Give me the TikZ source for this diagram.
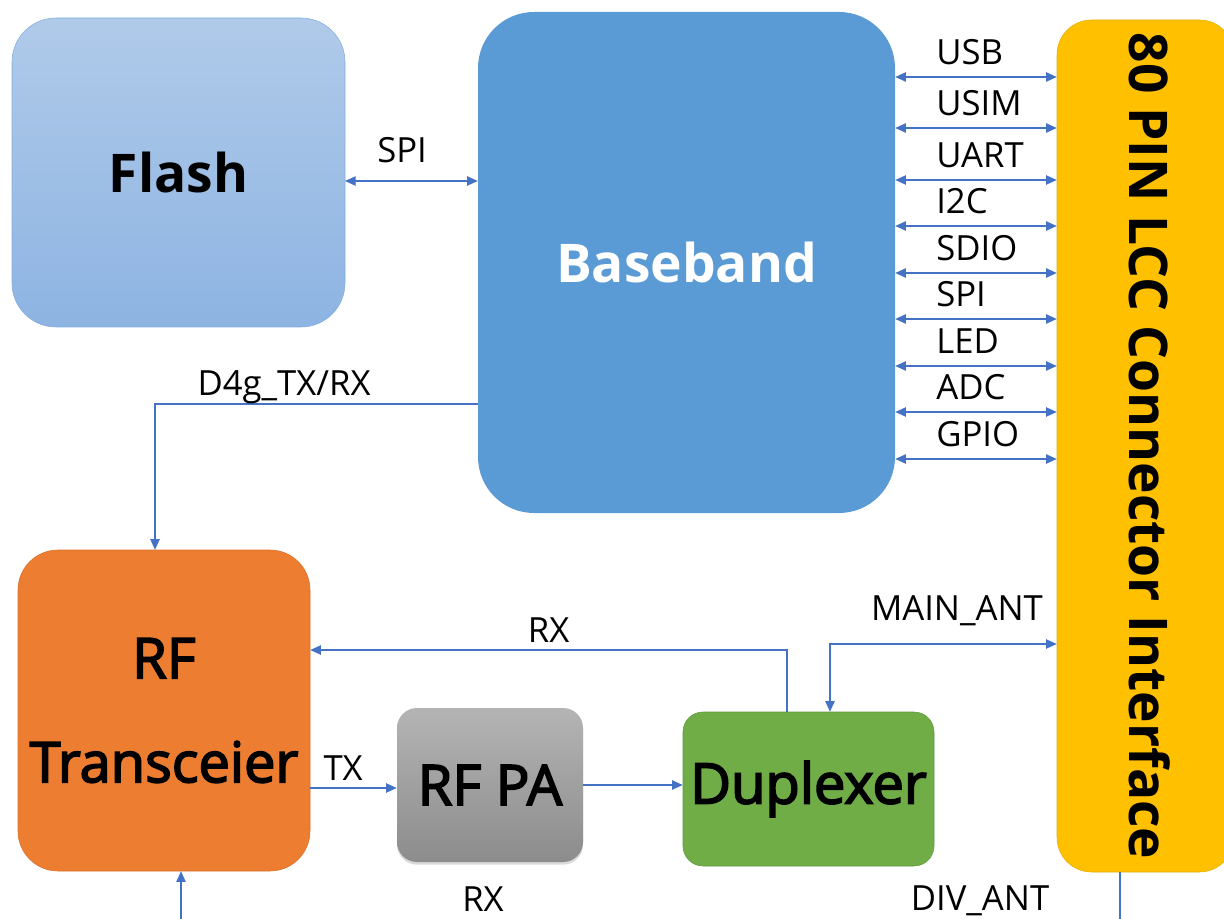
\documentclass[tikz,border=0pt]{standalone}
\usepackage{fontspec}
\setmainfont{Open Sans}
\newfontfamily\semibfont{Open Sans}[FakeBold=3]
\usepackage{tikz}
\usetikzlibrary{arrows.meta,shadows}

\definecolor{sigblue}{HTML}{4472C4}
\definecolor{flashtop}{HTML}{B0CAE9}
\definecolor{flashbot}{HTML}{8DB4E2}
\definecolor{flashedge}{HTML}{84ACDD}
\definecolor{bbfill}{HTML}{5B9BD5}
\definecolor{lccfill}{HTML}{FFC000}
\definecolor{lccedge}{HTML}{E6AC00}
\definecolor{rffill}{HTML}{ED7D31}
\definecolor{rfedge}{HTML}{D9702A}
\definecolor{patop}{HTML}{B4B4B4}
\definecolor{pabot}{HTML}{8C8C8C}
\definecolor{dupfill}{HTML}{70AD47}
\definecolor{dupedge}{HTML}{5E9A3C}

\tikzset{
  blk/.style={ rectangle, inner sep=0pt, align=center, font=\semibfont\fontsize{42}{50}\selectfont }
}
\tikzset{
  titleblk/.style={ blk, font=\fontsize{40}{48}\selectfont\bfseries }
}
\tikzset{
  flashbox/.style={ titleblk, draw=flashedge, top color=flashtop, bottom color=flashbot, rounded corners=33pt,
    minimum width=249.75pt, minimum height=231.75pt }
}
\tikzset{
  bbbox/.style={ titleblk, fill=bbfill, rounded corners=42pt, text=white,
    minimum width=312.75pt, minimum height=375.75pt }
}
\tikzset{
  lccbox/.style={ blk, draw=lccedge, fill=lccfill, rounded corners=26pt,
    minimum width=132.75pt, minimum height=639pt }
}
\tikzset{
  lcctext/.style={ inner sep=0pt, rotate=-90, font=\fontsize{40}{48}\selectfont\bfseries }
}
\tikzset{
  rfbox/.style={ blk, draw=rfedge, fill=rffill, rounded corners=30pt,
    minimum width=219pt, minimum height=240.75pt }
}
\tikzset{
  pabox/.style={ blk, top color=patop, bottom color=pabot, rounded corners=15pt,
    minimum width=139.5pt, minimum height=115.5pt,
    drop shadow={opacity=0.3, shadow xshift=0pt, shadow yshift=-2pt} }
}
\tikzset{
  dupbox/.style={ blk, draw=dupedge, fill=dupfill, rounded corners=15pt,
    minimum width=188.25pt, minimum height=115.5pt }
}
\tikzset{
  sig/.style={ draw=sigblue, line width=1pt, >={Triangle[length=8pt,width=7pt]} }
}
\tikzset{
  sigtext/.style={ inner sep=0pt, anchor=base, text=black, font=\fontsize{26}{30}\selectfont }
}

\begin{document}
\begin{tikzpicture}[x=0.75pt, y=-0.75pt]
  \clip (0,0) rectangle (1224,919);

  \node[flashbox] (flash) at (178.5,172.5) {Flash};
  \node[bbbox] (bb) at (686.5,262.5) {Baseband};
  \node[lccbox] (lcc) at (1145.5,446) {};
  \node[lcctext] (lcctxt) at (1150,446) {80 PIN LCC Connector Interface};
  \node[rfbox] (rf) at (164,710.5) {RF\\[28pt]Transceier};
  \node[pabox] (pa) at (490,785) {RF PA};
  \node[dupbox] (dup) at (808.5,789) {Duplexer};

  % flash link
  \coordinate (spiy) at (345,181);
  \draw[sig,<->] (spiy) -- node[sigtext, pos=0.43, yshift=14pt] (lspi) {SPI} (spiy -| bb.west);

  % baseband to connector bus
  \foreach \sig/\yy [count=\i] in {USB/77, USIM/128, UART/180, I2C/226, SDIO/273, SPI/319, LED/366, ADC/412, GPIO/459} {
    \coordinate (bus\i) at (960,\yy);
    \draw[sig,<->] (bus\i -| bb.east) -- node[sigtext, anchor=base west, pos=0.25, yshift=9.4pt] (lbl\i) {\sig} (bus\i -| lcc.west);
  }

  \coordinate (d4g) at (155,404);
  \draw[sig,->] (d4g -| bb.west) -- node[sigtext, pos=0.6, yshift=6.4pt] (ld4g) {D4g\_TX/RX} (d4g) -- (d4g |- rf.north);

  \coordinate (rxtop) at (787,650);
  \draw[sig,->] (rxtop |- dup.north) -- (rxtop) -- node[sigtext, pos=0.5, yshift=5.6pt] (lrx) {RX} (rxtop -| rf.east);

  \coordinate (txy) at (0,788);
  \draw[sig,->] (txy -| rf.east) -- node[sigtext, pos=0.38, yshift=5.6pt] (ltx) {TX} (txy -| pa.west);
  \draw[sig,->] (pa.east) -- (pa.east -| dup.west);

  \coordinate (ant) at (830,644);
  \draw[sig,<->] (ant -| lcc.west) -- node[sigtext, pos=0.44, yshift=18pt] (lmain) {MAIN\_ANT} (ant) -- (ant |- dup.north);

  \coordinate (div) at (1120,930);
  \draw[sig] (div |- lcc.south) -- (div);
  \node[sigtext] (ldiv) at (980,910) {DIV\_ANT};

  \coordinate (rxin) at (181,930);
  \draw[sig,->] (rxin) -- (rxin |- rf.south);
  \node[sigtext] (lrxb) at (483,911) {RX};
\end{tikzpicture}
\end{document}
